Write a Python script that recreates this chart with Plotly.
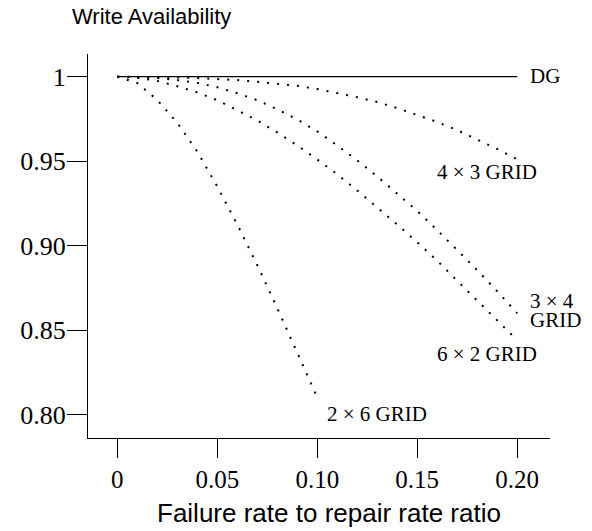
import plotly.graph_objects as go

# ---- data ----
x_full = [0.00, 0.01, 0.02, 0.03, 0.04, 0.05, 0.06, 0.07, 0.08, 0.09, 0.10,
          0.11, 0.12, 0.13, 0.14, 0.15, 0.16, 0.17, 0.18, 0.19, 0.20]
x_short = [0.00, 0.01, 0.02, 0.03, 0.04, 0.05, 0.06, 0.07, 0.08, 0.09, 0.10]

dg_x = [0.0, 0.2]
dg_y = [1.0, 1.0]

grid_4x3 = [1.0, 0.99995, 0.9998, 0.9996, 0.9992, 0.9987, 0.9980, 0.9970, 0.9960, 0.9946, 0.9927,
            0.9904, 0.9879, 0.9850, 0.9814, 0.9773, 0.9732, 0.9684, 0.9630, 0.9572, 0.9511]
grid_3x4 = [1.0, 0.9998, 0.9992, 0.9980, 0.9963, 0.9938, 0.9902, 0.9861, 0.9807, 0.9747, 0.9676,
            0.9593, 0.9505, 0.9410, 0.9310, 0.9205, 0.9092, 0.8975, 0.8855, 0.8730, 0.8600]
grid_6x2 = [1.0, 0.9994, 0.9975, 0.9944, 0.9907, 0.9861, 0.9801, 0.9741, 0.9670, 0.9593, 0.9510,
            0.9422, 0.9327, 0.9227, 0.9125, 0.9020, 0.8911, 0.8792, 0.8673, 0.8555, 0.8440]
grid_2x6 = [1.0, 0.9963, 0.9862, 0.9727, 0.9557, 0.9350, 0.9125, 0.8885, 0.8630, 0.8369, 0.8102]

y_tickvals = [0.80, 0.85, 0.90, 0.95, 1.0]
y_ticktext = ["0.80", "0.85", "0.90", "0.95", "1"]
x_tickvals = [0.0, 0.05, 0.10, 0.15, 0.20]
x_ticktext = ["0", "0.05", "0.10", "0.15", "0.20"]

SERIF = "Liberation Serif, Times New Roman, serif"
SANS = "Liberation Sans, Arial, sans-serif"

W, H = 592, 531
L, R, T, B = 88, 42, 54, 93
PW, PH = W - L - R, H - T - B


def px_to_paper_x(p):
    return (p - L) / PW


def px_to_paper_y(p):
    return (H - B - p) / PH


dot_line = dict(color="black", width=2, dash="2px,8px")

fig = go.Figure()
fig.add_trace(go.Scatter(x=dg_x, y=dg_y, mode="lines",
                         line=dict(color="black", width=1.3), name="DG"))
fig.add_trace(go.Scatter(x=x_full, y=grid_4x3, mode="lines", line=dot_line, name="4x3"))
fig.add_trace(go.Scatter(x=x_full, y=grid_3x4, mode="lines", line=dot_line, name="3x4"))
fig.add_trace(go.Scatter(x=x_full, y=grid_6x2, mode="lines", line=dot_line, name="6x2"))
fig.add_trace(go.Scatter(x=x_short, y=grid_2x6, mode="lines", line=dot_line, name="2x6"))

lab_font = dict(family=SERIF, size=21, color="black")
annotations = [
    dict(x=0.2055, y=1.0005, text="DG", xanchor="left", yanchor="middle"),
    dict(x=0.1847, y=0.9437, text="4 × 3 GRID", xanchor="center", yanchor="middle"),
    dict(x=0.2055, y=0.8670, text="3 × 4", xanchor="left", yanchor="middle"),
    dict(x=0.2055, y=0.8562, text="GRID", xanchor="left", yanchor="middle"),
    dict(x=0.1847, y=0.8358, text="6 × 2 GRID", xanchor="center", yanchor="middle"),
    dict(x=0.1300, y=0.8003, text="2 × 6 GRID", xanchor="center", yanchor="middle"),
]
for a in annotations:
    a.update(xref="x", yref="y", showarrow=False, font=lab_font)

annotations.append(dict(xref="paper", yref="paper", x=px_to_paper_x(70), y=px_to_paper_y(17),
                        text="Write Availability", xanchor="left", yanchor="middle",
                        showarrow=False, font=dict(family=SANS, size=22, color="black")))
annotations.append(dict(xref="paper", yref="paper", x=px_to_paper_x(329), y=px_to_paper_y(513),
                        text="Failure rate to repair rate ratio", xanchor="center", yanchor="middle",
                        showarrow=False, font=dict(family=SANS, size=26, color="black")))

fig.update_layout(
    width=W, height=H,
    margin=dict(l=L, r=R, t=T, b=B),
    paper_bgcolor="white", plot_bgcolor="white",
    showlegend=False,
    annotations=annotations,
    xaxis=dict(range=[-0.01465, 0.2164], showgrid=False, zeroline=False,
               showline=True, linecolor="black", linewidth=1,
               ticks="outside", ticklen=19, tickwidth=1, tickcolor="black",
               tickvals=x_tickvals, ticktext=x_ticktext,
               tickfont=dict(family=SERIF, size=25, color="black")),
    yaxis=dict(range=[0.78614, 1.01345], showgrid=False, zeroline=False,
               showline=True, linecolor="black", linewidth=1,
               ticks="outside", ticklen=20, tickwidth=1, tickcolor="black",
               ticklabelstandoff=-4,
               tickvals=y_tickvals, ticktext=y_ticktext,
               tickfont=dict(family=SERIF, size=26, color="black")),
)

fig.write_html("out.html")
